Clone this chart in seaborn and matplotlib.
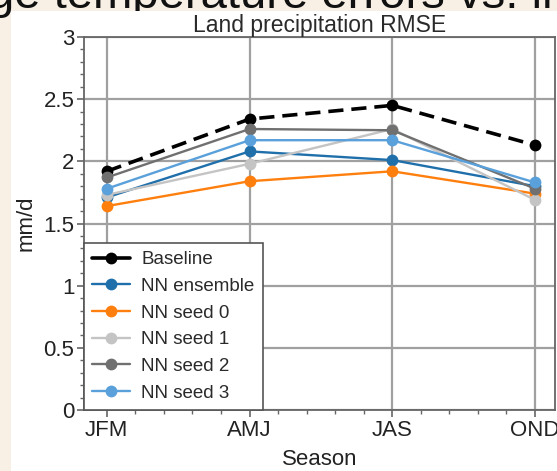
import matplotlib
matplotlib.use("Agg")
import matplotlib.pyplot as plt
import seaborn as sns
import pandas as pd
from matplotlib.ticker import MultipleLocator

seasons = ["JFM", "AMJ", "JAS", "OND"]
baseline = [1.92, 2.34, 2.45, 2.13]
nn_ensemble = [1.71, 2.08, 2.01, 1.80]
nn_seed0 = [1.64, 1.84, 1.92, 1.74]
nn_seed1 = [1.73, 1.98, 2.26, 1.69]
nn_seed2 = [1.87, 2.26, 2.25, 1.78]
nn_seed3 = [1.78, 2.17, 2.17, 1.83]

series = [
    ("Baseline", baseline, "black"),
    ("NN ensemble", nn_ensemble, "#1f6fab"),
    ("NN seed 0", nn_seed0, "#ff7f0e"),
    ("NN seed 1", nn_seed1, "#c4c4c4"),
    ("NN seed 2", nn_seed2, "#707070"),
    ("NN seed 3", nn_seed3, "#5aa0da"),
]

sns.set_theme(style="ticks")
plt.rcParams["font.family"] = ["Liberation Sans", "DejaVu Sans"]

W, H = 557, 471
fig = plt.figure(figsize=(W / 100, H / 100), dpi=100)
fig.patch.set_facecolor("#f8efe5")

# cut-off slide heading at the very top (lowest layer)
strip = fig.add_axes([0, 1 - 40 / H, 1, 40 / H], zorder=0)
strip.set_axis_off()
strip.text(-12 / W, 1 - 8 / H, "ge temperature errors vs. inp", fontsize=34,
           color="#111111", ha="left", va="baseline", transform=fig.transFigure)

# white slide panel covering everything below the heading strip
panel = fig.add_axes([11 / W, 0, 1 - 11 / W, 1 - 11 / H], zorder=1)
panel.set_facecolor("white")
panel.set_xticks([])
panel.set_yticks([])
for s in panel.spines.values():
    s.set_visible(False)

ax = fig.add_axes([84 / W, 1 - 410 / H, (555 - 84) / W, (410 - 37) / H], zorder=2)

for name, vals, col in series:
    df = pd.DataFrame({"Season": seasons, "val": vals})
    if name == "Baseline":
        sns.lineplot(data=df, x="Season", y="val", ax=ax, color=col, lw=2.6,
                     marker="o", markersize=8.5, markeredgewidth=0, label=name,
                     linestyle=(0, (4.2, 2.2)), sort=False)
    else:
        sns.lineplot(data=df, x="Season", y="val", ax=ax, color=col, lw=1.7,
                     marker="o", markersize=8.5, markeredgewidth=0, label=name, sort=False)

ax.set_xlim(-0.16, 3.14)
ax.set_ylim(0, 3)
ax.set_yticks([0, 0.5, 1, 1.5, 2, 2.5, 3])
ax.set_yticklabels(["0", "0.5", "1", "1.5", "2", "2.5", "3"])
ax.yaxis.set_minor_locator(MultipleLocator(0.1))
ax.xaxis.set_minor_locator(MultipleLocator(0.2))
ax.grid(True, which="major", color="#a0a0a0", lw=1.6)
ax.set_axisbelow(True)
for s in ax.spines.values():
    s.set_color("#666666")
    s.set_linewidth(1.3)
ax.tick_params(which="major", length=5, width=1.2, color="#666666", labelsize=16, pad=2,
               labelcolor="#222222")
ax.tick_params(which="minor", length=3, width=1.0, color="#666666")
ax.set_xlabel("Season", fontsize=16, labelpad=6, color="#222222")
ax.set_ylabel("mm/d", fontsize=16, labelpad=5, color="#222222")
ax.set_title("Land precipitation RMSE", fontsize=16.5, color="#2a2a2a", pad=3)

leg = ax.legend(loc="lower left", borderaxespad=0, fontsize=13.5, frameon=True,
                fancybox=False, framealpha=1, edgecolor="#555555",
                labelspacing=0.51, handlelength=2.0, handletextpad=0.6, borderpad=0.45)
leg.get_frame().set_linewidth(1.2)
leg.get_lines()[0].set_linestyle("-")
for t in leg.get_texts():
    t.set_color("#2a2a2a")

fig.savefig("out.png", dpi=100, facecolor=fig.get_facecolor())
